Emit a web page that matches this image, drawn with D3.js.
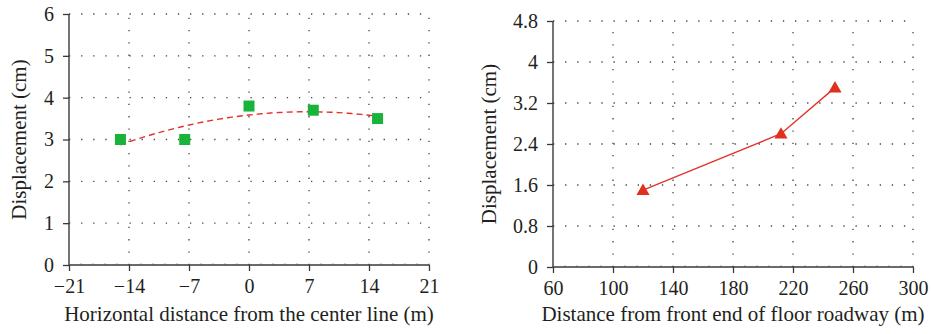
<!DOCTYPE html>
<html><head><meta charset="utf-8">
<script src="https://cdn.jsdelivr.net/npm/d3@7"></script>
<style>
body{margin:0;background:#fff}
svg text{font-family:"Liberation Serif","DejaVu Serif",serif;fill:#231f20}
</style></head>
<body><svg id="c" width="932" height="334"></svg>
<script>
// Left chart data
const leftX = [-15, -7.5, 0, 7.5, 15];
const leftY = [3.0, 3.0, 3.8, 3.7, 3.5];
const leftXTicks = [-21, -14, -7, 0, 7, 14, 21];
const leftYTicks = [0, 1, 2, 3, 4, 5, 6];
// Right chart data
const rightX = [120, 212, 248];
const rightY = [1.5, 2.6, 3.5];
const rightXTicks = [60, 100, 140, 180, 220, 260, 300];
const rightYTicks = [0, 0.8, 1.6, 2.4, 3.2, 4, 4.8];

const svg = d3.select("#c");
const fmt = v => (v < 0 ? "\u2212" + Math.abs(v) : String(v));

function frame(g, x, y, xt, yt, xTitle, yTitle, titleX) {
  const [x0, x1] = x.range(), [y0, y1] = y.range();
  // grid
  g.selectAll(".gv").data(xt.slice(1)).join("line")
    .attr("x1", d => x(d)).attr("x2", d => x(d)).attr("y1", y0).attr("y2", y1)
    .attr("stroke", "#444").attr("stroke-width", 1.3).attr("stroke-dasharray", "1.3,11");
  g.selectAll(".gh").data(yt.slice(1)).join("line")
    .attr("x1", x0).attr("x2", x1).attr("y1", d => y(d)).attr("y2", d => y(d))
    .attr("stroke", "#444").attr("stroke-width", 1.3).attr("stroke-dasharray", "1.3,10.8");
  // minor x ticks
  const step = xt[1] - xt[0];
  const minors = [];
  xt.slice(0, -1).forEach(t => { for (let k = 1; k < 5; k++) minors.push(t + step * k / 5); });
  g.selectAll(".mn").data(minors).join("line")
    .attr("x1", d => x(d)).attr("x2", d => x(d)).attr("y1", y0).attr("y2", y0 - 2)
    .attr("stroke", "#999").attr("stroke-width", 0.8);
  // axes
  const ax = g.append("g").attr("transform", `translate(0,${y0})`)
    .call(d3.axisBottom(x).tickValues(xt).tickFormat(fmt).tickSize(6).tickPadding(8));
  const ay = g.append("g").attr("transform", `translate(${x0},0)`)
    .call(d3.axisLeft(y).tickValues(yt).tickFormat(fmt).tickSize(6).tickPadding(9));
  [ax, ay].forEach(a => {
    a.attr("font-size", null).attr("font-family", null);
    a.select(".domain").attr("stroke", "#3a3a3a").attr("stroke-width", 1.4);
    a.selectAll(".tick line").attr("stroke", "#3a3a3a").attr("stroke-width", 1.3);
    a.selectAll("text").style("font-size", "20px").style("font-family", "'Liberation Serif', serif").attr("fill", "#231f20");
  });
  ax.select(".domain").attr("d", `M${x0},0H${x1}`);
  ay.select(".domain").attr("d", `M0,${y0}V${y1}`);
  g.append("text").attr("x", (x0 + x1) / 2).attr("y", 321).attr("text-anchor", "middle")
    .style("font-size", "21px").text(xTitle);
  g.append("text").attr("transform", `translate(${titleX},${(y0 + y1) / 2}) rotate(-90)`)
    .attr("text-anchor", "middle").style("font-size", "21px").text(yTitle);
}

// Left
const xL = d3.scaleLinear().domain([-21, 21]).range([69, 429]);
const yL = d3.scaleLinear().domain([0, 6]).range([265, 14]);
const gL = svg.append("g");
frame(gL, xL, yL, leftXTicks, leftYTicks, "Horizontal distance from the center line (m)", "Displacement (cm)", 26);

// quadratic least-squares trendline computed from the data
(function () {
  const n = leftX.length;
  const S = k => d3.sum(leftX, v => Math.pow(v, k));
  const T = k => d3.sum(leftX.map((v, i) => Math.pow(v, k) * leftY[i]));
  const A = [[n, S(1), S(2)], [S(1), S(2), S(3)], [S(2), S(3), S(4)]];
  const B = [T(0), T(1), T(2)];
  for (let i = 0; i < 3; i++) {
    for (let j = i + 1; j < 3; j++) {
      const f = A[j][i] / A[i][i];
      for (let k = i; k < 3; k++) A[j][k] -= f * A[i][k];
      B[j] -= f * B[i];
    }
  }
  const c = [0, 0, 0];
  for (let i = 2; i >= 0; i--) {
    let s = B[i];
    for (let k = i + 1; k < 3; k++) s -= A[i][k] * c[k];
    c[i] = s / A[i][i];
  }
  const xs = d3.range(0, 61).map(i => d3.min(leftX) + (d3.max(leftX) - d3.min(leftX)) * i / 60);
  gL.append("path").datum(xs)
    .attr("d", d3.line().x(d => xL(d)).y(d => yL(c[0] + c[1] * d + c[2] * d * d)))
    .attr("fill", "none").attr("stroke", "#e3322a").attr("stroke-width", 1.4).attr("stroke-dasharray", "6,4");
})();
gL.selectAll(".sq").data(leftX).join("rect")
  .attr("x", (d) => xL(d) - 5.5).attr("y", (d, i) => yL(leftY[i]) - 5.5)
  .attr("width", 11).attr("height", 11).attr("fill", "#17b33a");

// Right
const xR = d3.scaleLinear().domain([60, 300]).range([553, 913]);
const yR = d3.scaleLinear().domain([0, 4.8]).range([267, 21]);
const gR = svg.append("g");
frame(gR, xR, yR, rightXTicks, rightYTicks, "Distance from front end of floor roadway (m)", "Displacement (cm)", 496);
gR.append("path").datum(rightX)
  .attr("d", d3.line().x(d => xR(d)).y((d, i) => yR(rightY[i])))
  .attr("fill", "none").attr("stroke", "#e3322a").attr("stroke-width", 1.4);
gR.selectAll(".tri").data(rightX).join("path")
  .attr("d", d3.symbol(d3.symbolTriangle, 75))
  .attr("transform", (d, i) => `translate(${xR(d)},${yR(rightY[i]) + 1})`)
  .attr("fill", "#e0301e");
</script></body></html>
